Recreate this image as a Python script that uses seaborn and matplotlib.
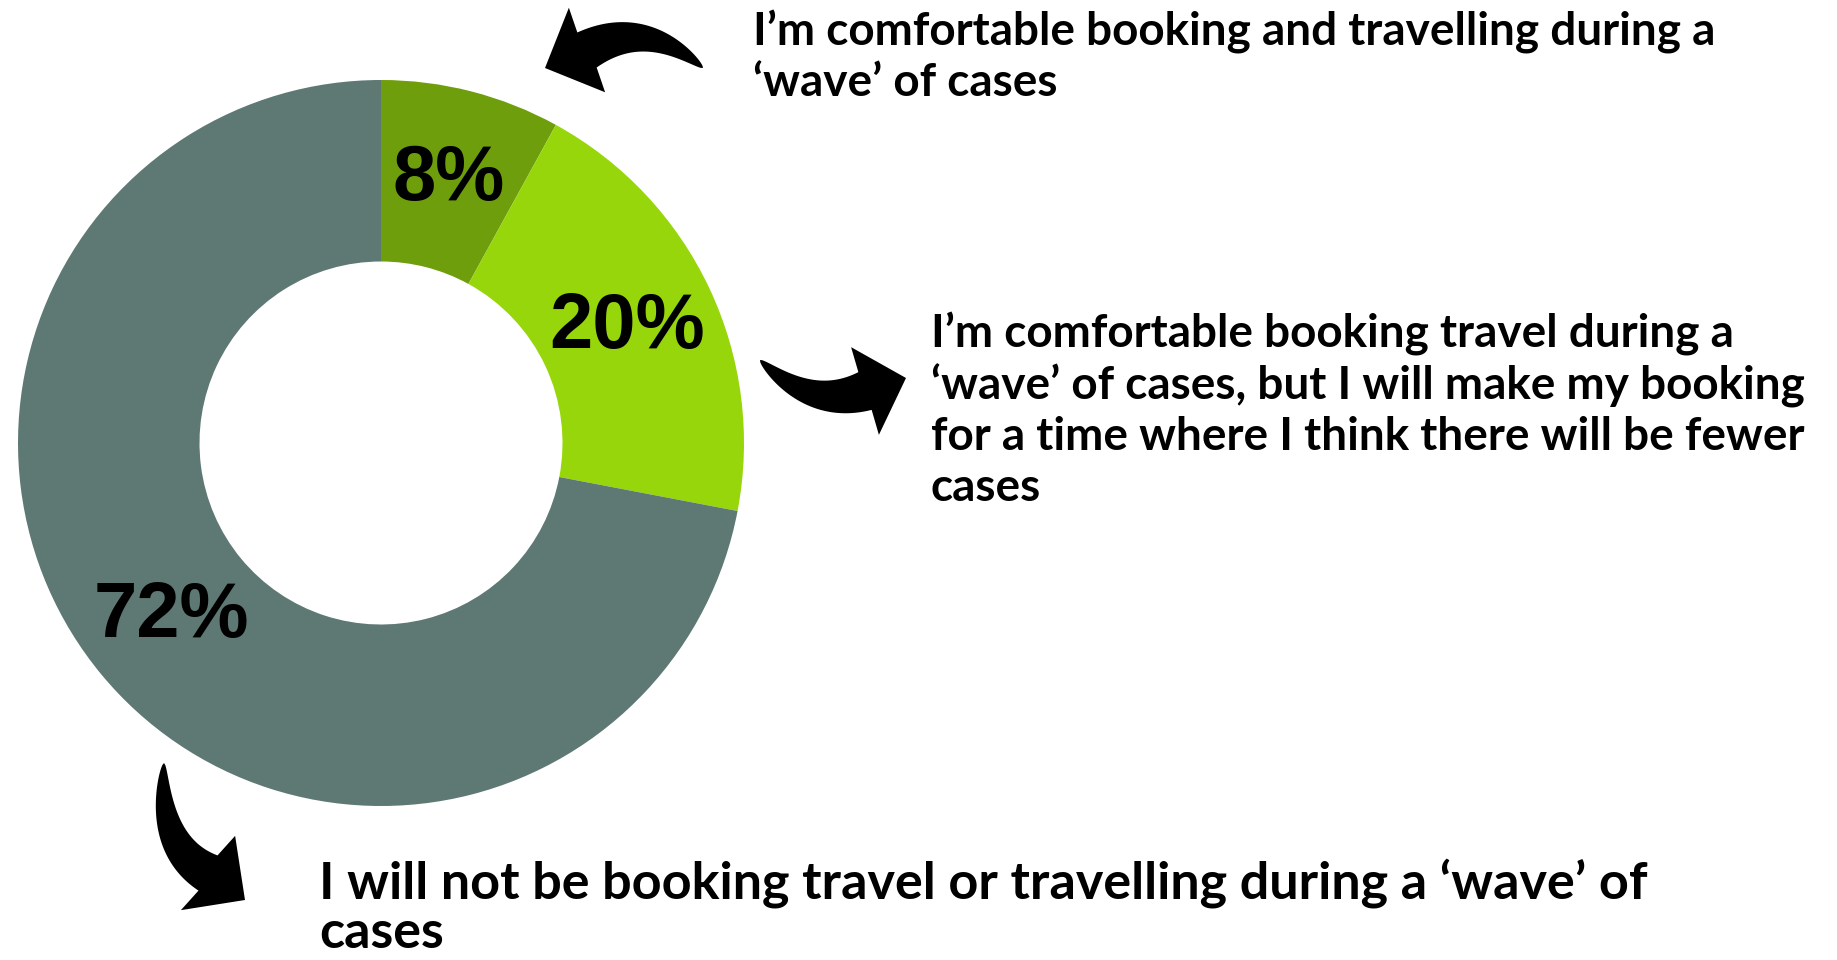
import numpy as np
import matplotlib.pyplot as plt
import seaborn as sns
from matplotlib.patches import Polygon

# survey shares (clockwise from 12 o'clock)
shares = [8, 20, 72]
slice_colors = ['#6E9E0C', '#96D60A', '#5E7874']

# answer texts, one entry per line
text_comfortable = ["I’m comfortable booking and travelling during a",
                    "‘wave’ of cases"]
text_later = ["I’m comfortable booking travel during a",
              "‘wave’ of cases, but I will make my booking",
              "for a time where I think there will be fewer",
              "cases"]
text_not = ["I will not be booking travel or travelling during a ‘wave’ of",
            "cases"]

sns.set_theme(style='white')
plt.rcParams['font.family'] = ['Lato', 'DejaVu Sans']

W, H = 1837, 960
fig = plt.figure(figsize=(W / 100, H / 100), dpi=100)

# donut
cx, cy, r = 381, 443, 363
ax_pie = fig.add_axes([(cx - r) / W, (H - cy - r) / H, 2 * r / W, 2 * r / H])
ax_pie.pie(shares, colors=slice_colors, startangle=90, counterclock=False,
           radius=1, wedgeprops=dict(width=0.5, linewidth=0),
           autopct='%.0f%%', pctdistance=0.75,
           textprops=dict(color='black', fontsize=56, fontweight='bold',
                          family=['Liberation Sans', 'DejaVu Sans']))
ax_pie.set_xlim(-1, 1)
ax_pie.set_ylim(-1, 1)
ax_pie.set_aspect('equal')
ax_pie.axis('off')

# overlay in pixel coordinates for texts and arrows
ax = fig.add_axes([0, 0, 1, 1], zorder=5)
ax.set_xlim(0, W)
ax.set_ylim(H, 0)
ax.axis('off')
ax.patch.set_alpha(0)


def curved_arrow(ax, tail, ctrl, base, tip, body_w=40, head_w=92):
    tail, ctrl, base, tip = [np.asarray(p, dtype=float) for p in (tail, ctrl, base, tip)]
    t = np.linspace(0, 1, 80)[:, None]
    pts = (1 - t) ** 2 * tail + 2 * (1 - t) * t * ctrl + t ** 2 * base
    d = 2 * (1 - t) * (ctrl - tail) + 2 * t * (base - ctrl)
    n = np.column_stack([-d[:, 1], d[:, 0]])
    n /= np.linalg.norm(n, axis=1)[:, None]
    w = body_w / 2 * t ** 0.6
    left = pts + n * w
    right = pts - n * w
    hd = tip - base
    hn = np.array([-hd[1], hd[0]]) / np.linalg.norm(hd)
    h1 = base + hn * head_w / 2
    h2 = base - hn * head_w / 2
    poly = np.vstack([left, h1, tip, h2, right[::-1]])
    ax.add_patch(Polygon(poly, closed=True, facecolor='black', edgecolor='none'))


curved_arrow(ax, (703, 68), (645, 18), (587, 50), (545, 68))
curved_arrow(ax, (760, 360), (811, 410), (865, 391), (906, 378))
curved_arrow(ax, (164, 763), (158, 846), (208, 873), (245, 900))


def text_block(ax, x, y0, lines, size, step):
    for i, line in enumerate(lines):
        ax.text(x, y0 + i * step, line, fontsize=size, fontweight='bold',
                color='black', ha='left', va='baseline')


text_block(ax, 753, 45, text_comfortable, 33, 51)
text_block(ax, 931, 348, text_later, 33, 51)
text_block(ax, 319, 899, text_not, 37.5, 49)

fig.savefig('out.png', dpi=100)
